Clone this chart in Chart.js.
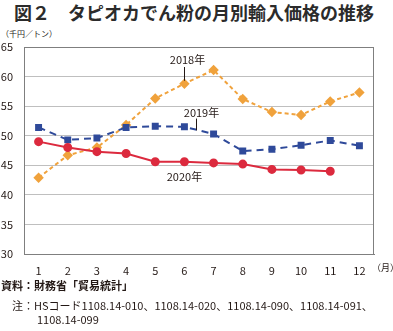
<!DOCTYPE html>
<html lang="ja">
<head>
<meta charset="utf-8">
<title>タピオカでん粉の月別輸入価格の推移</title>
<script src="https://cdn.jsdelivr.net/npm/chart.js@4/dist/chart.umd.min.js"></script>
<style>
  html, body { margin: 0; padding: 0; background: #fff; }
  body { width: 393px; height: 331px; position: relative; overflow: hidden;
         font-family: "Noto Sans CJK JP", "Noto Sans", sans-serif; color: #231815; }
  #chart { position: absolute; left: 0; top: 0; }
  .title { position: absolute; left: 14px; top: 0px; font-size: 18px; font-weight: bold;
           white-space: nowrap; line-height: 24px; color: #2b2b2b; }
  .unit { position: absolute; left: 1px; top: 28px; font-size: 8px; line-height: 12px; white-space: nowrap; }
  .month { position: absolute; left: 372px; top: 261px; font-size: 9px; line-height: 14px; white-space: nowrap; }
  .note { position: absolute; font-size: 11px; line-height: 14px; white-space: nowrap; }
</style>
</head>
<body>
<div class="title">図２　タピオカでん粉の月別輸入価格の推移</div>
<div class="unit">（千円／トン）</div>
<canvas id="chart" width="393" height="331"></canvas>
<div class="month">（月）</div>
<div class="note" style="left:1px; top:278px; font-weight:bold;">資料：財務省「貿易統計」</div>
<div class="note" style="left:12px; top:298px;">注：HSコード1108.14-010、1108.14-020、1108.14-090、1108.14-091、</div>
<div class="note" style="left:37px; top:312px;">1108.14-099</div>

<script>
// 月別輸入価格（千円／トン）
const months   = ['1','2','3','4','5','6','7','8','9','10','11','12'];
const price2018 = [42.9, 46.7, 48.0, 51.8, 56.3, 58.8, 61.1, 56.2, 54.0, 53.5, 55.8, 57.3];
const price2019 = [51.4, 49.3, 49.6, 51.4, 51.6, 51.5, 50.3, 47.4, 47.7, 48.4, 49.2, 48.3];
const price2020 = [49.0, 48.0, 47.3, 47.0, 45.6, 45.6, 45.4, 45.2, 44.3, 44.2, 44.0, null];
const yTicks    = [30, 35, 40, 45, 50, 55, 60, 65];

const FONT = '"Noto Sans CJK JP", "Noto Sans", sans-serif';

// 枠線と系列ラベル（引き出し線つき）
const framePlugin = {
  id: 'frame',
  afterDraw(chart) {
    const { ctx, chartArea: a, scales: { x, y } } = chart;
    ctx.save();
    ctx.strokeStyle = '#7f7f7f';
    ctx.lineWidth = 1;
    ctx.strokeRect(a.left + 0.5, a.top + 0.5, a.right - a.left - 1, a.bottom - a.top);

    ctx.fillStyle = '#231815';
    ctx.font = '11px ' + FONT;
    ctx.textAlign = 'center';
    ctx.textBaseline = 'middle';

    // 2018年
    const x6 = Math.round(x.getPixelForValue(5)) + 0.5;
    ctx.fillText('2018年', x6 + 3, y.getPixelForValue(60.6) - 13);
    ctx.strokeStyle = '#231815';
    ctx.beginPath();
    ctx.moveTo(x6, y.getPixelForValue(60.6) - 6);
    ctx.lineTo(x6, y.getPixelForValue(59.3));
    ctx.stroke();

    // 2019年
    const xl = Math.round((x.getPixelForValue(5) * 0.62 + x.getPixelForValue(6) * 0.38)) + 0.5;
    ctx.fillText('2019年', xl + 5, y.getPixelForValue(52.9) - 6);
    ctx.beginPath();
    ctx.moveTo(xl, y.getPixelForValue(52.9));
    ctx.lineTo(xl, y.getPixelForValue(50.9));
    ctx.stroke();

    // 2020年
    ctx.fillText('2020年', x.getPixelForValue(5), y.getPixelForValue(43.1));
    ctx.restore();
  }
};

new Chart(document.getElementById('chart'), {
  type: 'line',
  data: {
    labels: months,
    datasets: [
      {
        label: '2018年',
        data: price2018,
        borderColor: '#f0a23c',
        backgroundColor: '#f0a23c',
        borderWidth: 2,
        borderDash: [4, 3],
        pointStyle: 'rectRot',
        pointRadius: 3.8,
        tension: 0,
        order: 3,
      },
      {
        label: '2019年',
        data: price2019,
        borderColor: '#2f4a9a',
        backgroundColor: '#2f4a9a',
        borderWidth: 2,
        borderDash: [7, 5],
        pointStyle: 'rect',
        pointRadius: 3.5,
        tension: 0,
        order: 2,
      },
      {
        label: '2020年',
        data: price2020,
        borderColor: '#dc2a3e',
        backgroundColor: '#dc2a3e',
        borderWidth: 2,
        pointStyle: 'circle',
        pointRadius: 3.5,
        tension: 0,
        order: 1,
      },
    ]
  },
  options: {
    responsive: false,
    animation: false,
    devicePixelRatio: 1,
    layout: { padding: { top: 47, right: 19, bottom: 52, left: 0 } },
    plugins: {
      legend: { display: false },
      tooltip: { enabled: false },
    },
    scales: {
      x: {
        offset: true,
        grid: { display: false },
        border: { display: true, color: '#7f7f7f' },
        ticks: { color: '#231815', font: { family: FONT, size: 11 }, padding: 2, maxRotation: 0 },
        afterFit: s => { s.height = 25; },
      },
      y: {
        min: 30, max: 65,
        afterBuildTicks: s => { s.ticks = yTicks.map(v => ({ value: v })); },
        grid: { color: '#bfbfbf', drawTicks: false },
        border: { display: true, color: '#7f7f7f' },
        ticks: { color: '#231815', font: { family: FONT, size: 11 }, padding: 11 },
        afterFit: s => { s.width = 24; },
      }
    }
  },
  plugins: [framePlugin]
});
</script>
</body>
</html>
